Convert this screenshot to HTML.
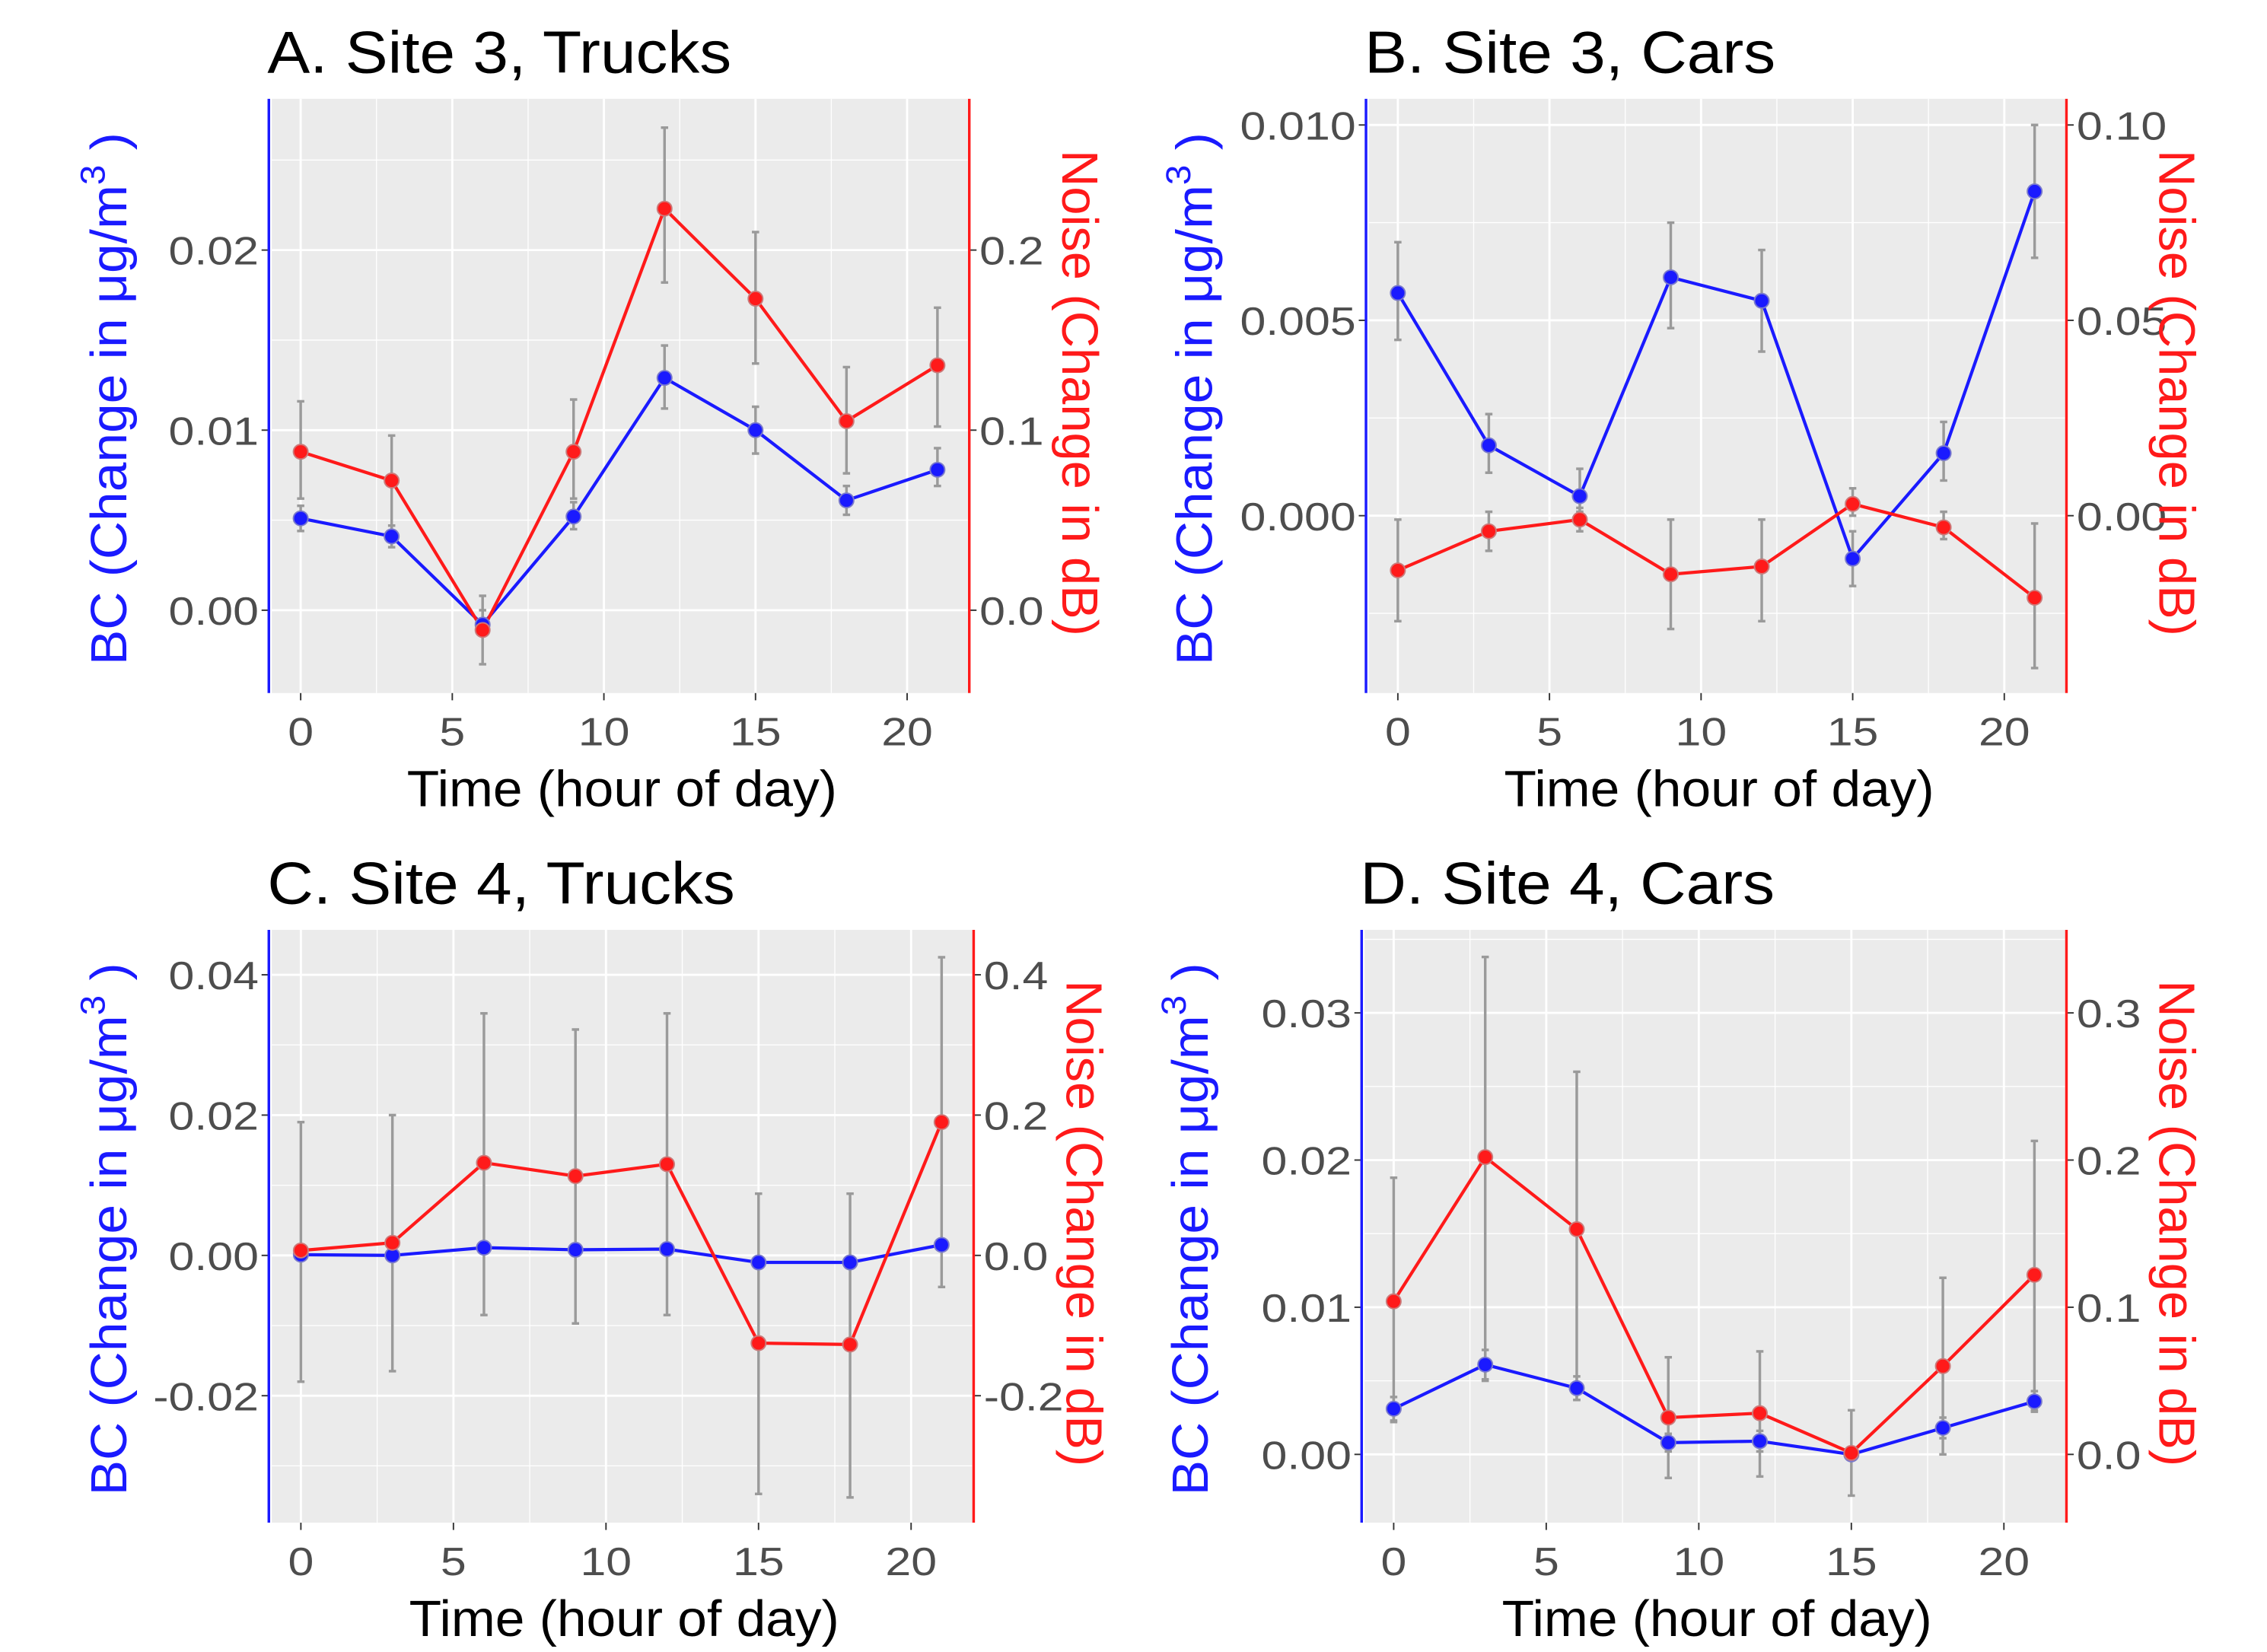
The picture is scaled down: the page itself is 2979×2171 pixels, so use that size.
<!DOCTYPE html>
<html><head><meta charset="utf-8">
<style>
html,body{margin:0;padding:0;background:#fff;}
svg{display:block;font-family:"Liberation Sans",Arial,sans-serif;}
</style></head>
<body>
<svg id="chart" width="2979" height="2171" viewBox="0 0 1560 1137" preserveAspectRatio="none" xmlns="http://www.w3.org/2000/svg"></svg>
<script>
const hours = [0,3,6,9,12,15,18,21];
const xTicks = [0,5,10,15,20];
const titles = ["A. Site 3, Trucks","B. Site 3, Cars","C. Site 4, Trucks","D. Site 4, Cars"];
const bcA = [0.0051,0.0041,-0.0008,0.0052,0.0129,0.0100,0.0061,0.0078];
const noiseA = [0.088,0.072,-0.011,0.088,0.223,0.173,0.105,0.136];
const bcLoA = [0.0044,0.0035,-0.0013,0.0045,0.0112,0.0087,0.0053,0.0069];
const bcHiA = [0.0058,0.0047,0.0000,0.0060,0.0147,0.0113,0.0069,0.0090];
const noiseLoA = [0.062,0.044,-0.030,0.062,0.182,0.137,0.076,0.102];
const noiseHiA = [0.116,0.097,0.008,0.117,0.268,0.210,0.135,0.168];
const bcB = [0.0057,0.0018,0.0005,0.0061,0.0055,-0.0011,0.0016,0.0083];
const noiseB = [-0.014,-0.004,-0.001,-0.015,-0.013,0.003,-0.003,-0.021];
const bcLoB = [0.0045,0.0011,0.0001,0.0048,0.0042,-0.0018,0.0009,0.0066];
const bcHiB = [0.0070,0.0026,0.0012,0.0075,0.0068,-0.0004,0.0024,0.0100];
const noiseLoB = [-0.027,-0.009,-0.004,-0.029,-0.027,0.000,-0.006,-0.039];
const noiseHiB = [-0.001,0.001,0.002,-0.001,-0.001,0.007,0.001,-0.002];
const bcC = [0.0001,0.0000,0.0011,0.0008,0.0009,-0.0010,-0.0010,0.0015];
const noiseC = [0.007,0.018,0.132,0.113,0.130,-0.125,-0.127,0.190];
const bcLoC = [-0.0002,-0.0003,0.0008,0.0005,0.0006,-0.0013,-0.0013,0.0011];
const bcHiC = [0.0004,0.0003,0.0014,0.0011,0.0012,-0.0007,-0.0007,0.0019];
const noiseLoC = [-0.180,-0.165,-0.085,-0.097,-0.085,-0.340,-0.345,-0.045];
const noiseHiC = [0.190,0.200,0.345,0.322,0.345,0.088,0.088,0.425];
const bcD = [0.0031,0.0061,0.0045,0.0008,0.0009,0.0000,0.0018,0.0036];
const noiseD = [0.104,0.202,0.153,0.025,0.028,0.001,0.060,0.122];
const bcLoD = [0.0023,0.0051,0.0037,0.0002,0.0002,-0.0003,0.0011,0.0029];
const bcHiD = [0.0039,0.0071,0.0053,0.0014,0.0016,0.0003,0.0025,0.0043];
const noiseLoD = [0.022,0.050,0.037,-0.016,-0.015,-0.028,0.000,0.030];
const noiseHiD = [0.188,0.338,0.260,0.066,0.070,0.030,0.120,0.213];
const bcTicksA = [0,0.01,0.02], bcLabelsA = ["0.00","0.01","0.02"], noiseLabelsA = ["0.0","0.1","0.2"];
const bcTicksB = [0,0.005,0.010], bcLabelsB = ["0.000","0.005","0.010"], noiseLabelsB = ["0.00","0.05","0.10"];
const bcTicksC = [-0.02,0,0.02,0.04], bcLabelsC = ["-0.02","0.00","0.02","0.04"], noiseLabelsC = ["-0.2","0.0","0.2","0.4"];
const bcTicksD = [0,0.01,0.02,0.03], bcLabelsD = ["0.00","0.01","0.02","0.03"], noiseLabelsD = ["0.0","0.1","0.2","0.3"];
const bcDomains = [[-0.0046,0.0284],[-0.00454,0.01067],[-0.0381,0.0464],[-0.00464,0.03564]];
const noiseScale = 10;

const panels = [
 {x0:185,x1:667,y0:68,y1:477,bc:bcA,nz:noiseA,bl:bcLoA,bh:bcHiA,nl:noiseLoA,nh:noiseHiA,ticks:bcTicksA,bL:bcLabelsA,nL:noiseLabelsA},
 {x0:940,x1:1422,y0:68,y1:477,bc:bcB,nz:noiseB,bl:bcLoB,bh:bcHiB,nl:noiseLoB,nh:noiseHiB,ticks:bcTicksB,bL:bcLabelsB,nL:noiseLabelsB},
 {x0:185,x1:670,y0:640,y1:1048,bc:bcC,nz:noiseC,bl:bcLoC,bh:bcHiC,nl:noiseLoC,nh:noiseHiC,ticks:bcTicksC,bL:bcLabelsC,nL:noiseLabelsC},
 {x0:937,x1:1422,y0:640,y1:1048,bc:bcD,nz:noiseD,bl:bcLoD,bh:bcHiD,nl:noiseLoD,nh:noiseHiD,ticks:bcTicksD,bL:bcLabelsD,nL:noiseLabelsD}
];
const NS="http://www.w3.org/2000/svg";
const svg=document.getElementById('chart');
function mk(tag,attrs,parent,text){const e=document.createElementNS(NS,tag);for(const k in attrs)e.setAttribute(k,attrs[k]);if(text!==undefined)e.textContent=text;(parent||svg).appendChild(e);return e;}
const xDom=[-1.05,22.05];
const HS=1.18;
panels.forEach((p,i)=>{
  const g=mk('g',{});
  
  
  const dom=bcDomains[i];
  const X=h=>p.x0+(h-xDom[0])/(xDom[1]-xDom[0])*(p.x1-p.x0);
  const Y=v=>p.y1-(v-dom[0])/(dom[1]-dom[0])*(p.y1-p.y0);
  const YN=v=>Y(v/noiseScale);
  const bg=mk('rect',{x:p.x0+2,y:p.y0,width:p.x1-p.x0-3,height:p.y1-p.y0,fill:'#EBEBEB'},g);
  
  
  const step=p.ticks[1]-p.ticks[0];
  for(let k=-1;k<p.ticks.length;k++){const v=p.ticks[0]+step*(k+0.5);const y=Y(v);if(y>p.y0&&y<p.y1)mk('line',{x1:p.x0+2,x2:p.x1-1,y1:y,y2:y,stroke:'#fff','stroke-width':0.7},g);}
  for(let k=-1;k<xTicks.length;k++){const x=X(2.5+5*k);if(x>p.x0+2&&x<p.x1-1)mk('line',{x1:x,x2:x,y1:p.y0,y2:p.y1,stroke:'#fff','stroke-width':0.7},g);}
  p.ticks.forEach((v,k)=>{const y=Y(v);
    mk('line',{x1:p.x0+2,x2:p.x1-1,y1:y,y2:y,stroke:'#fff','stroke-width':1.5},g);
    mk('line',{x1:p.x0-5,x2:p.x0,y1:y,y2:y,stroke:'#333','stroke-width':1},g);
    mk('line',{x1:p.x1,x2:p.x1+5,y1:y,y2:y,stroke:'#333','stroke-width':1},g);
    const tl=mk('text',{x:0,y:0,'text-anchor':'end','font-size':27,fill:'#4d4d4d',transform:`translate(${p.x0-7},${y+10}) scale(${HS},1)`},g,p.bL[k]);
    
    
    const tr=mk('text',{x:0,y:0,'font-size':27,fill:'#4d4d4d',transform:`translate(${p.x1+7},${y+10}) scale(${HS},1)`},g,p.nL[k]);
    
    
  });
  xTicks.forEach(h=>{const x=X(h);
    mk('line',{x1:x,x2:x,y1:p.y0,y2:p.y1,stroke:'#fff','stroke-width':1.5},g);
    mk('line',{x1:x,x2:x,y1:p.y1,y2:p.y1+5,stroke:'#333','stroke-width':1},g);
    const t=mk('text',{x:0,y:0,'text-anchor':'middle','font-size':27,fill:'#4d4d4d',transform:`translate(${x},${p.y1+36}) scale(${HS},1)`},g,String(h));
    
    
  });
  const la=mk('line',{x1:p.x0,x2:p.x0,y1:p.y0,y2:p.y1,stroke:'#1a1aff','stroke-width':1.8},g);
  
  
  const ra=mk('line',{x1:p.x1,x2:p.x1,y1:p.y0,y2:p.y1,stroke:'#ff1a1a','stroke-width':1.8},g);
  
  
  hours.forEach((h,k)=>{const x=X(h);
    [[p.bl[k],p.bh[k],Y],[p.nl[k],p.nh[k],YN]].forEach(([lo,hi,f])=>{
      const e=mk('g',{stroke:'#9a9a9a','stroke-width':1.8},g);
      
      
      mk('line',{x1:x,x2:x,y1:f(lo),y2:f(hi)},e);
      mk('line',{x1:x-2.5,x2:x+2.5,y1:f(lo),y2:f(lo)},e);
      mk('line',{x1:x-2.5,x2:x+2.5,y1:f(hi),y2:f(hi)},e);
    });
  });
  const bcPts=hours.map((h,k)=>X(h)+','+Y(p.bc[k])).join(' ');
  const nPts=hours.map((h,k)=>X(h)+','+YN(p.nz[k])).join(' ');
  const bl=mk('polyline',{points:bcPts,fill:'none',stroke:'#1a1aff','stroke-width':2.2},g);
  
  
  const nl=mk('polyline',{points:nPts,fill:'none',stroke:'#ff1a1a','stroke-width':2.2},g);
  
  
  hours.forEach((h,k)=>{
    const c=mk('circle',{cx:X(h),cy:Y(p.bc[k]),r:5,fill:'#1a1aff',stroke:'#7a7acc','stroke-width':1},g);
    
    
    const d=mk('circle',{cx:X(h),cy:YN(p.nz[k]),r:5,fill:'#ff1a1a',stroke:'#cc7a7a','stroke-width':1},g);
    
    
  });
  const t=mk('text',{x:0,y:0,'font-size':41,fill:'#000',transform:`translate(${p.x0-1},${p.y0-18}) scale(1.07,1)`},g,titles[i]);
  
  
  const xt=mk('text',{x:0,y:0,'text-anchor':'middle','font-size':35,fill:'#000',transform:`translate(${(p.x0+p.x1)/2+2},${p.y1+78}) scale(1.04,1)`},g,'Time (hour of day)');
  
  
  const cy=(p.y0+p.y1)/2;
  const lx=p.x0-(i%2?106:98);
  const yt=mk('text',{x:0,y:0,'text-anchor':'middle','font-size':35,fill:'#1a1aff',transform:`translate(${lx},${cy+2}) rotate(-90) scale(1.04,1)`},g);
  
  
  mk('tspan',{},yt,'BC (Change in μg/m');
  mk('tspan',{dy:-15,'font-size':24},yt,'3');
  mk('tspan',{dy:15},yt,' )');
  const rt=mk('text',{x:0,y:0,'text-anchor':'middle','font-size':35,fill:'#ff1a1a',transform:`translate(${p.x1+64},${cy-2}) rotate(90)`},g,'Noise (Change in dB)');
  
  
});
</script>
</body></html>
